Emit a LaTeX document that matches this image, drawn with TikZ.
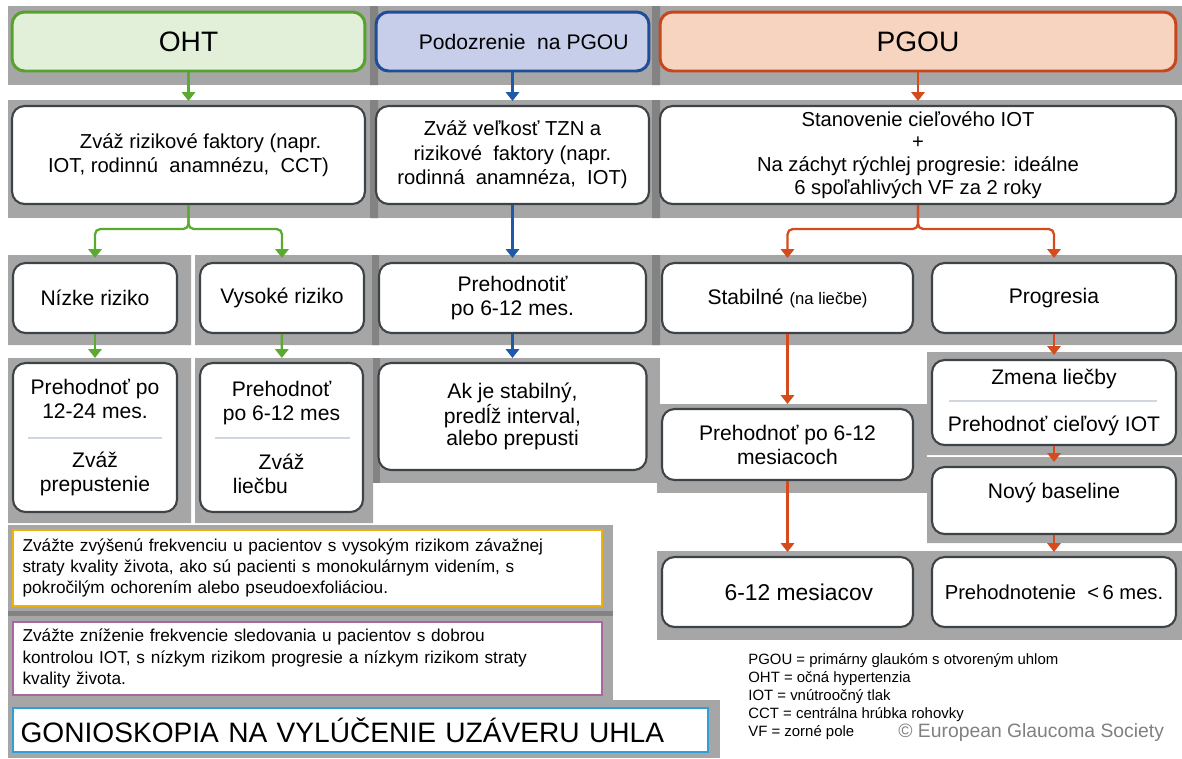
\documentclass[tikz,border=0pt]{standalone}
\usepackage{fontspec}
\setmainfont{Liberation Sans}
\usetikzlibrary{arrows.meta}
\definecolor{bandgray}{HTML}{A6A6A6}
\definecolor{sepgray}{HTML}{838383}
\definecolor{boxline}{HTML}{3E4347}
\definecolor{ohtline}{HTML}{55A32E}
\definecolor{ohtfill}{HTML}{E2EFD9}
\definecolor{suspline}{HTML}{1F4E99}
\definecolor{suspfill}{HTML}{C6CEEA}
\definecolor{pgouline}{HTML}{C8461C}
\definecolor{pgoufill}{HTML}{F6D4BF}
\definecolor{arrgreen}{HTML}{5AAA32}
\definecolor{arrblue}{HTML}{1F5AA8}
\definecolor{arrorange}{HTML}{D64B1C}
\definecolor{divcol}{HTML}{CFD6DD}
\definecolor{noteyellow}{HTML}{EDB00F}
\definecolor{notepurple}{HTML}{A8689F}
\definecolor{notecyan}{HTML}{2F9FD8}
\begin{document}
\begin{tikzpicture}[x=0.02cm, y=-0.02cm,
        band/.style={fill=bandgray},
        sep/.style={fill=sepgray},
        box/.style={draw=boxline, line width=1.2pt, fill=white, rounded corners=0.25cm,
            align=center, inner sep=2pt, font=\fontsize{12}{13.7}\selectfont},
        head/.style={box, line width=1.7pt, font=\fontsize{16}{19}\selectfont},
        riskbox/.style={box, font=\fontsize{11.5}{14}\selectfont},
        note/.style={draw, line width=1.5pt, fill=white, align=left, inner sep=4pt,
            font=\fontsize{9.8}{12}\selectfont},
        divider/.style={draw=divcol, line width=1.4pt},
        link/.style={line width=1.3pt, rounded corners=3pt, shorten >=0.08cm,
            -{Triangle[width=7.5pt,length=5pt]}}]
    \useasboundingbox (0,0) rectangle (1182,758);

    \fill[band] (8,6) rectangle (1182,85);
    \fill[band] (8,100) rectangle (1182,218);
    \fill[sep] (370,6) rectangle (378,85) (652,6) rectangle (660,85);
    \fill[sep] (370,100) rectangle (378,218) (652,100) rectangle (660,218);
    \fill[band] (8,255) rectangle (191,345) (195,255) rectangle (1182,345);
    \fill[sep] (372,255) rectangle (379,345) (652,255) rectangle (660,345);
    \fill[band] (8,358) rectangle (191,523) (195,358) rectangle (373,523);
    \fill[sep] (373,358) rectangle (380,483);
    \fill[band] (380,358) rectangle (660,483);
    \fill[band] (657,404) rectangle (927,493);
    \fill[band] (927,352) rectangle (1182,455) (927,457) rectangle (1182,543);
    \fill[band] (657,551) rectangle (1182,640);
    \fill[band] (8,525) rectangle (613,700);
    \fill[sep] (8,611) rectangle (613,616);
    \fill[band] (8,700) rectangle (720,758);

    \node[head, draw=ohtline, fill=ohtfill, minimum width=7.06cm, minimum height=1.18cm]
        (oht) at (188.5,41.5) {OHT};
    \node[head, draw=suspline, fill=suspfill, minimum width=5.46cm, minimum height=1.18cm,
        font=\fontsize{12}{14}\selectfont] (suspect) at (512.5,41.5)
        {\hspace*{0.45cm}Podozrenie\ \ na PGOU};
    \node[head, draw=pgouline, fill=pgoufill, minimum width=10.32cm, minimum height=1.18cm]
        (pgou) at (918,41.5) {PGOU};

    \node[riskbox, minimum width=7.06cm, minimum height=1.96cm] (ohtrisk) at (188.5,155)
        {\hspace*{1.2em}Zváž rizikové faktory (napr.\\IOT, rodinnú\ \ anamnézu,\ \ CCT)};
    \node[riskbox, minimum width=5.46cm, minimum height=1.96cm] (susprisk) at (512.5,155)
        {Zváž veľkosť TZN a\\rizikové\ \ faktory (napr.\\rodinná\ \ anamnéza,\ \ IOT)};
    \node[riskbox, minimum width=10.32cm, minimum height=1.96cm,
        font=\fontsize{11.5}{13}\selectfont] (target) at (918,155)
        {Stanovenie cieľového IOT\\+\\Na záchyt rýchlej progresie: ideálne\\6 spoľahlivých VF za 2 roky};

    \node[box, minimum width=3.28cm, minimum height=1.4cm] (low) at (95,298) {Nízke riziko};
    \node[box, minimum width=3.28cm, minimum height=1.4cm] (high) at (282,298) {Vysoké riziko};
    \node[box, minimum width=5.34cm, minimum height=1.4cm] (reeval) at (512.5,298)
        {Prehodnotiť\\po 6-12 mes.};
    \node[box, minimum width=5.02cm, minimum height=1.4cm] (stable) at (787.5,298)
        {Stabilné {\fontsize{9.5}{11}\selectfont(na liečbe)}};
    \node[box, minimum width=4.88cm, minimum height=1.4cm] (progress) at (1054,298) {Progresia};

    \node[box, minimum width=3.28cm, minimum height=2.98cm] (lowfollow) at (95,437.5)
        {Prehodnoť po\\12-24 mes.\\[14pt]Zváž\\prepustenie};
    \node[box, minimum width=3.26cm, minimum height=2.98cm] (highfollow) at (281.5,437.5)
        {Prehodnoť\\po 6-12 mes\\[14pt]Zváž\hspace*{2em}\\liečbu\hspace*{2em}};
    \node[box, minimum width=5.36cm, minimum height=2.14cm, font=\fontsize{12}{12.6}\selectfont]
        (stablenote) at (512.5,416.5) {\\[-4pt]Ak je stabilný,\\predĺž interval,\\alebo prepusti};
    \node[box, minimum width=5.02cm, minimum height=1.42cm] (stablefollow) at (787.5,444.5)
        {Prehodnoť po 6-12\\mesiacoch};
    \node[box, minimum width=4.88cm, minimum height=1.7cm] (change) at (1054,402.5)
        {Zmena liečby\\[12.5pt]Prehodnoť cieľový IOT};
    \node[box, minimum width=4.88cm, minimum height=1.34cm, text depth=0.4cm] (baseline)
        at (1054,500.5) {Nový baseline};

    \node[box, minimum width=5.02cm, minimum height=1.4cm, font=\fontsize{13}{15}\selectfont]
        (sixtwelve) at (787.5,592) {\hspace*{1em}6-12 mesiacov};
    \node[box, minimum width=4.88cm, minimum height=1.4cm, font=\fontsize{11.5}{14}\selectfont]
        (short) at (1054,592) {Prehodnotenie\ \ {<}\,6 mes.};

    \draw[divider] (28,438) -- (162,438);
    \draw[divider] (215,438) -- (350,438);
    \draw[divider] (949,401) -- (1157,401);

    \node[note, draw=noteyellow, minimum width=11.78cm, minimum height=1.52cm, text width=11.4cm]
        (frequp) at (307.5,568)
        {Zvážte zvýšenú frekvenciu u pacientov s vysokým rizikom závažnej\\straty kvality života, ako sú pacienti s monokulárnym videním, s\\pokročilým ochorením alebo pseudoexfoliáciou.};
    \node[note, draw=notepurple, minimum width=11.78cm, minimum height=1.46cm, text width=11.4cm]
        (freqdown) at (307.5,658.5)
        {Zvážte zníženie frekvencie sledovania u pacientov s dobrou\\kontrolou IOT, s nízkym rizikom progresie a nízkym rizikom straty\\kvality života.};
    \node[note, draw=notecyan, minimum width=13.9cm, minimum height=0.88cm, text width=13.6cm,
        font=\fontsize{16}{19}\selectfont] (gonio) at (360.5,730)
        {GONIOSKOPIA NA VYLÚČENIE\ UZÁVERU UHLA};

    \node[anchor=north west, align=left, inner sep=0pt, font=\fontsize{8.5}{10.3}\selectfont]
        (legend) at (748,653)
        {PGOU = primárny glaukóm s otvoreným uhlom\\OHT = očná hypertenzia\\IOT = vnútroočný tlak\\CCT = centrálna hrúbka rohovky\\VF = zorné pole};
    \node[anchor=west, inner sep=0pt, text=black!50, font=\fontsize{11}{13}\selectfont]
        (egs) at (898,732) {© European Glaucoma Society};

    \draw[link, arrgreen] (oht) -- (ohtrisk);
    \draw[link, arrgreen] (ohtrisk.south) -- ++(0,24) -| (low.north);
    \draw[link, arrgreen] (ohtrisk.south) -- ++(0,24) -| (high.north);
    \draw[link, arrgreen] (low) -- (lowfollow);
    \draw[link, arrgreen] (high) -- (highfollow);

    \draw[link, arrblue] (suspect) -- (susprisk);
    \draw[link, arrblue] (susprisk) -- (reeval);
    \draw[link, arrblue] (reeval) -- (stablenote);

    \draw[link, arrorange] (pgou) -- (target);
    \draw[link, arrorange] (target.south) -- ++(0,24) -| (stable.north);
    \draw[link, arrorange] (target.south) -- ++(0,24) -| (progress.north);
    \draw[link, arrorange] (stable) -- (stablefollow);
    \draw[link, arrorange] (stablefollow) -- (sixtwelve);
    \draw[link, arrorange] (progress) -- (change);
    \draw[link, arrorange] (change) -- (baseline);
    \draw[link, arrorange] (baseline) -- (short);
\end{tikzpicture}
\end{document}
